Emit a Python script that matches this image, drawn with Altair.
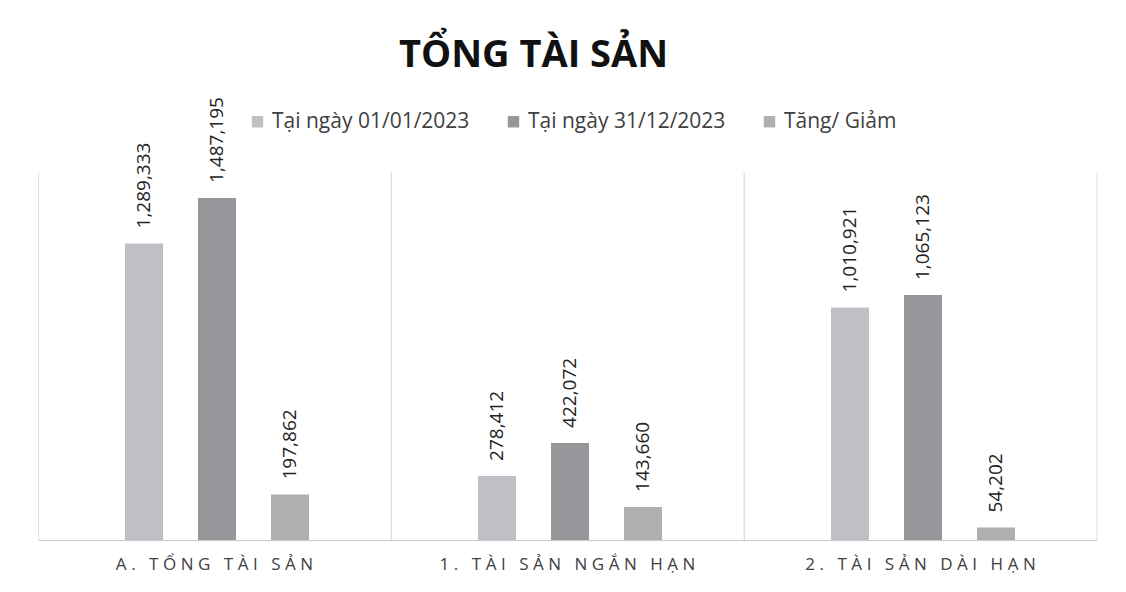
import altair as alt
import pandas as pd

categories = ["A. TỔNG TÀI SẢN", "1. TÀI SẢN NGẮN HẠN", "2. TÀI SẢN DÀI HẠN"]
series = ["Tại ngày 01/01/2023", "Tại ngày 31/12/2023", "Tăng/ Giảm"]
v_0101 = [1289333, 278412, 1010921]
v_3112 = [1487195, 422072, 1065123]
v_change = [197862, 143660, 54202]
colors = ["#bfc0c6", "#97979b", "#aeb0ae"]

rows = []
for i, c in enumerate(categories):
    for s, vals in zip(series, [v_0101, v_3112, v_change]):
        rows.append({"cat": c, "series": s, "value": vals[i]})
df = pd.DataFrame(rows)
df_cats = pd.DataFrame({"cat": categories})

FONT = "Open Sans"

xscale = alt.Scale(paddingInner=0, paddingOuter=0)
x_main = alt.X(
    "cat:N", sort=categories, scale=xscale, title=None,
    axis=alt.Axis(
        labelAngle=0, ticks=False, grid=True, bandPosition=0,
        gridColor="#e0e0e0", domainColor="#c8c8c8", labelFont=FONT,
        labelFontSize=17, labelColor="#404040", labelPadding=16, labelLimit=0,
        labelExpr="join(split(datum.label, ''), '\u2009\u200a')",
    ),
)
x_noaxis = alt.X("cat:N", sort=categories, scale=xscale, title=None, axis=None)
x_edge = alt.X("cat:N", sort=categories, scale=xscale, title=None, axis=None,
               bandPosition=1)
y = alt.Y("value:Q", scale=alt.Scale(domain=[0, 1600000]), axis=None)
xoff = alt.XOffset("series:N", sort=series,
                   scale=alt.Scale(paddingInner=0.479, paddingOuter=0,
                                   range=[87, 271]))

bars = alt.Chart(df).mark_bar().encode(
    x=x_main, y=y, xOffset=xoff,
    color=alt.Color("series:N", sort=series,
                    scale=alt.Scale(domain=series, range=colors),
                    legend=alt.Legend(
                        title=None, orient="none", direction="horizontal",
                        legendX=209, legendY=-61, symbolType="square",
                        symbolSize=130, symbolStrokeWidth=0, labelLimit=0,
                        labelFont=FONT, labelFontSize=21, labelColor="#404040",
                        columnPadding=33, labelOffset=4,
                    )),
)

labels = alt.Chart(df).mark_text(
    angle=270, align="left", baseline="middle", dx=15,
    font=FONT, fontSize=19, color="#222222",
).encode(x=x_noaxis, y=y, xOffset=xoff, text=alt.Text("value:Q", format=","))

edges = alt.Chart(df_cats).mark_rule(color="#e0e0e0", strokeWidth=1).encode(x=x_edge)

chart = alt.layer(bars, labels, edges).resolve_axis(x="independent").properties(
    width=1059, height=368,
    autosize=alt.AutoSizeParams(type="none"),
    padding={"left": 30, "top": 164, "right": 21, "bottom": 44},
    title=alt.TitleParams("TỔNG TÀI SẢN", font=FONT, fontSize=38, fontWeight="bold",
                          color="#111111", anchor="middle", dx=-34, offset=22),
).configure_view(stroke=None)

chart.save("out.html", embed_options={"renderer": "svg", "actions": False})
